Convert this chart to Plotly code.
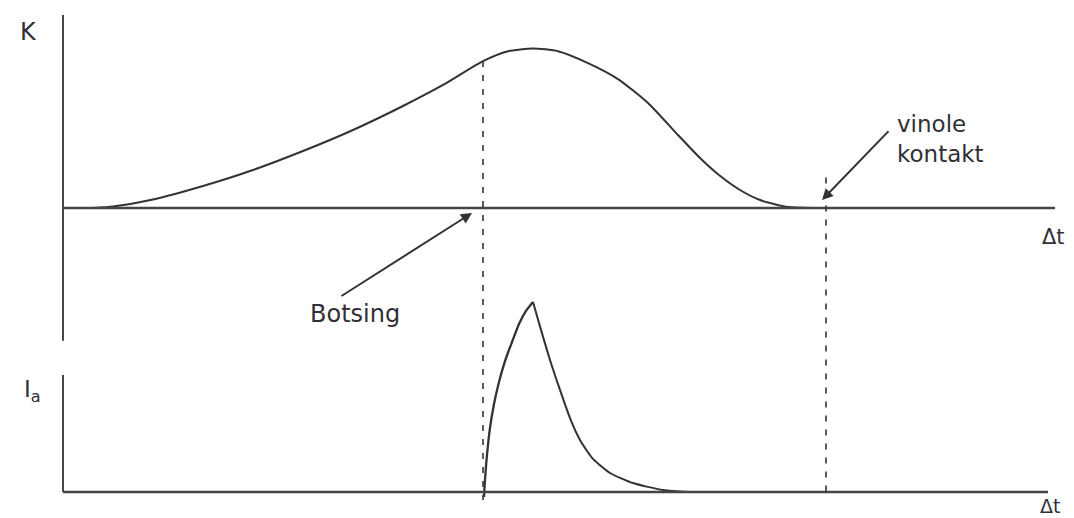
import plotly.graph_objects as go

# Time axis (arbitrary units) and event times
t_collision = 4.2      # "Botsing"
t_end_contact = 7.5    # end of contact

# Contact force K over time (normalised)
k_t = [0.30, 0.50, 0.90, 1.40, 1.90, 2.40, 2.90, 3.40, 3.80, 4.20,
       4.45, 4.70, 4.95, 5.25, 5.55, 5.85, 6.15, 6.37, 6.56, 6.77,
       6.97, 7.25, 7.50]
k_val = [0.0, 0.009, 0.053, 0.1375, 0.2375, 0.356, 0.4875, 0.6375, 0.769, 0.918,
         0.98, 0.997, 0.98, 0.906, 0.806, 0.656, 0.456, 0.3125, 0.206, 0.1125,
         0.05, 0.006, 0.0]

# Current pulse I_a: steep rise right after the collision, then decay
ia_rise_t = [4.21, 4.22, 4.24, 4.27, 4.31, 4.36, 4.42, 4.49, 4.56, 4.63, 4.70]
ia_rise = [-0.026, 0.063, 0.195, 0.337, 0.463, 0.579, 0.689, 0.789, 0.884, 0.953, 1.0]
ia_decay_t = [4.70, 4.78, 4.87, 4.97, 5.07, 5.17, 5.30, 5.47, 5.70, 6.00, 6.27]
ia_decay = [1.0, 0.853, 0.695, 0.537, 0.389, 0.274, 0.174, 0.10, 0.047, 0.0105, 0.0]

# Text labels
label_k = "K"
label_ia = "I<sub>a</sub>"
label_dt = "Δt"
label_collision = "Botsing"
label_end = "vinole<br>kontakt"

ink = "#323238"
axis_ink = "#454545"
hand_font = dict(family="DejaVu Sans", color="#303036")

fig = go.Figure()

fig.add_trace(go.Scatter(x=k_t, y=k_val, mode="lines",
                         line=dict(color=ink, width=2, shape="spline", smoothing=0.6),
                         yaxis="y", hoverinfo="skip"))
fig.add_trace(go.Scatter(x=ia_rise_t, y=ia_rise, mode="lines",
                         line=dict(color=ink, width=2.3, shape="spline", smoothing=0.6),
                         yaxis="y2", hoverinfo="skip"))
fig.add_trace(go.Scatter(x=ia_decay_t, y=ia_decay, mode="lines",
                         line=dict(color=ink, width=2, shape="spline", smoothing=0.6),
                         yaxis="y2", hoverinfo="skip"))

k_at_collision = k_val[k_t.index(t_collision)]

shapes = [
    # K panel axes
    dict(type="line", xref="x", yref="y", x0=0, x1=0, y0=1.206, y1=-0.83,
         line=dict(color=axis_ink, width=2)),
    dict(type="line", xref="x", yref="y", x0=0, x1=9.92, y0=0, y1=0,
         line=dict(color=axis_ink, width=2.5)),
    # I_a panel axes
    dict(type="line", xref="x", yref="y2", x0=0, x1=0, y0=0.616, y1=0,
         line=dict(color=axis_ink, width=2)),
    dict(type="line", xref="x", yref="y2", x0=0, x1=9.85, y0=0, y1=0,
         line=dict(color=axis_ink, width=2.5)),
    # event markers
    dict(type="line", xref="x", yref="y", x0=t_collision, x1=t_collision,
         y0=k_at_collision, y1=-1.825,
         line=dict(color=ink, width=1.6, dash="6px,8px")),
    dict(type="line", xref="x", yref="y", x0=t_end_contact + 0.13, x1=t_end_contact + 0.13,
         y0=0.19, y1=-1.78,
         line=dict(color=ink, width=1.6, dash="6px,8px")),
]

annotations = [
    dict(x=-0.35, y=1.1, xref="x", yref="y", text=label_k, showarrow=False,
         font=dict(size=24, **hand_font)),
    dict(x=-0.31, y=0.53, xref="x", yref="y2", text=label_ia, showarrow=False,
         font=dict(size=23, **hand_font)),
    dict(x=9.9, y=-0.18, xref="x", yref="y", text=label_dt, showarrow=False,
         font=dict(size=21, **hand_font)),
    dict(x=9.87, y=-0.075, xref="x", yref="y2", text=label_dt, showarrow=False,
         font=dict(size=19, **hand_font)),
    dict(x=2.92, y=-0.66, xref="x", yref="y", text=label_collision, showarrow=False,
         font=dict(size=24, **hand_font)),
    dict(x=8.32, y=0.43, xref="x", yref="y", text=label_end, showarrow=False,
         xanchor="left", align="left", font=dict(size=23, **hand_font)),
    # arrows
    dict(x=4.09, y=-0.031, xref="x", yref="y", ax=2.77, ay=-0.556,
         axref="x", ayref="y", text="", showarrow=True,
         arrowhead=2, arrowsize=1.1, arrowwidth=2, arrowcolor=ink,
         standoff=0, startstandoff=0),
    dict(x=7.59, y=0.05, xref="x", yref="y", ax=8.27, ay=0.49,
         axref="x", ayref="y", text="", showarrow=True,
         arrowhead=2, arrowsize=1.1, arrowwidth=2, arrowcolor=ink,
         standoff=0, startstandoff=0),
]

fig.update_layout(
    width=1074, height=518,
    margin=dict(l=0, r=0, t=0, b=0),
    paper_bgcolor="white", plot_bgcolor="white",
    showlegend=False,
    xaxis=dict(range=[-0.63, 10.11], visible=False, fixedrange=True),
    yaxis=dict(range=[-1.9375, 1.3], visible=False, fixedrange=True),
    yaxis2=dict(range=[-0.1368, 2.589], visible=False, overlaying="y",
                fixedrange=True),
    shapes=shapes,
    annotations=annotations,
)

fig.write_html("out.html", config={"displayModeBar": False})
